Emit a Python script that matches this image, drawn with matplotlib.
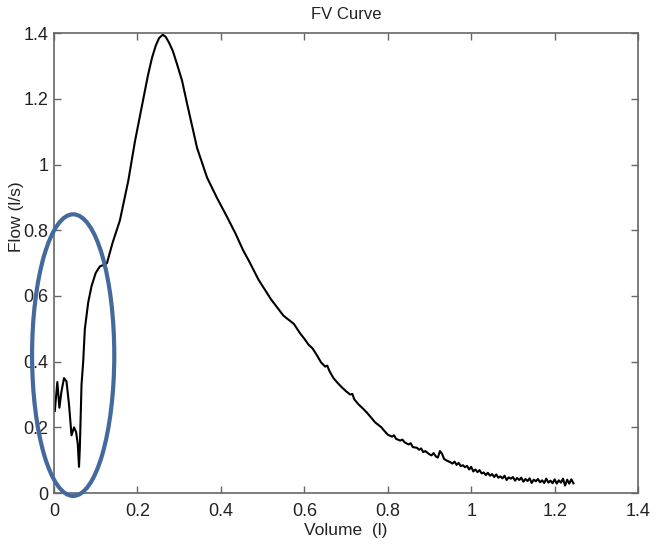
import matplotlib
matplotlib.use("Agg")
import matplotlib.pyplot as plt
from matplotlib.patches import Ellipse

plt.rcParams['font.family'] = ['Liberation Sans', 'DejaVu Sans']

volume = [
    0.002, 0.008, 0.013, 0.018, 0.024, 0.030, 0.036, 0.042, 0.048, 0.053,
    0.057, 0.060, 0.062, 0.066, 0.070, 0.074, 0.082, 0.090, 0.100, 0.110,
    0.120, 0.127, 0.140, 0.158, 0.178, 0.194, 0.214, 0.225, 0.235, 0.244,
    0.252, 0.261, 0.268, 0.276, 0.285, 0.295, 0.307, 0.319, 0.343, 0.367,
    0.390, 0.415, 0.435,
    0.453, 0.470, 0.490, 0.505, 0.520, 0.535, 0.550, 0.565, 0.575, 0.590,
    0.600, 0.610, 0.620, 0.630, 0.640, 0.650, 0.655, 0.660, 0.670, 0.680,
    0.690, 0.700, 0.710, 0.715, 0.720, 0.730, 0.740, 0.750, 0.760, 0.770,
    0.780, 0.785, 0.790, 0.800, 0.810, 0.815, 0.820, 0.830, 0.835, 0.840,
    0.850, 0.855, 0.860, 0.870, 0.875, 0.880, 0.885, 0.890, 0.900, 0.905,
    0.910, 0.915, 0.920, 0.925, 0.930, 0.935, 0.940, 0.950, 0.955, 0.960,
    0.965, 0.970, 0.975, 0.980, 0.985, 0.990, 0.995, 1.000, 1.005, 1.010,
    1.015, 1.020, 1.025, 1.030, 1.035, 1.040, 1.045, 1.050, 1.055, 1.060,
    1.065, 1.070, 1.075, 1.080, 1.085, 1.090, 1.095, 1.100, 1.105, 1.110,
    1.115, 1.120, 1.125, 1.130, 1.135, 1.140, 1.145, 1.150, 1.155, 1.160,
    1.165, 1.170, 1.175, 1.180, 1.185, 1.190, 1.195, 1.200, 1.205, 1.210,
    1.215, 1.220, 1.225, 1.230, 1.235, 1.240, 1.245,
]

flow = [
    0.250, 0.338, 0.260, 0.310, 0.350, 0.340, 0.270, 0.176, 0.200, 0.186,
    0.150, 0.080, 0.140, 0.330, 0.400, 0.500, 0.580, 0.630, 0.670, 0.690,
    0.695, 0.700, 0.760, 0.830, 0.950, 1.070, 1.200, 1.270, 1.325, 1.362,
    1.385, 1.395, 1.388, 1.370, 1.345, 1.305, 1.255, 1.185, 1.050, 0.960,
    0.900, 0.840, 0.790,
    0.740, 0.700, 0.650, 0.620, 0.590, 0.565, 0.540, 0.525, 0.515, 0.486,
    0.470, 0.452, 0.440, 0.420, 0.398, 0.385, 0.388, 0.372, 0.350, 0.335,
    0.322, 0.310, 0.300, 0.302, 0.285, 0.270, 0.258, 0.245, 0.230, 0.215,
    0.205, 0.200, 0.192, 0.178, 0.172, 0.176, 0.165, 0.160, 0.163, 0.155,
    0.148, 0.152, 0.140, 0.138, 0.132, 0.136, 0.125, 0.128, 0.118, 0.115,
    0.122, 0.112, 0.108, 0.128, 0.120, 0.104, 0.100, 0.094, 0.090, 0.096,
    0.086, 0.092, 0.082, 0.085, 0.079, 0.083, 0.072, 0.080, 0.066, 0.072,
    0.064, 0.070, 0.060, 0.063, 0.055, 0.062, 0.053, 0.058, 0.049, 0.057,
    0.047, 0.051, 0.045, 0.053, 0.040, 0.048, 0.044, 0.049, 0.038, 0.046,
    0.040, 0.047, 0.035, 0.043, 0.037, 0.045, 0.031, 0.041, 0.036, 0.043,
    0.033, 0.039, 0.031, 0.044, 0.032, 0.038, 0.030, 0.042, 0.029, 0.039,
    0.032, 0.044, 0.023, 0.041, 0.029, 0.042, 0.030,
]

xticks = [0, 0.2, 0.4, 0.6, 0.8, 1.0, 1.2, 1.4]
xticklabels = ['0', '0.2', '0.4', '0.6', '0.8', '1', '1.2', '1.4']
yticks = [0, 0.2, 0.4, 0.6, 0.8, 1.0, 1.2, 1.4]
yticklabels = ['0', '0.2', '0.4', '0.6', '0.8', '1', '1.2', '1.4']

# highlight ellipse (center, width, height) in data units
ellipse_center = (0.046, 0.42)
ellipse_width = 0.197
ellipse_height = 0.857

fig = plt.figure(figsize=(6.64, 5.51), dpi=100)
ax = fig.add_axes([0.0813, 0.105, 0.8797, 0.835])

ax.plot(volume, flow, color='black', linewidth=1.5)

ell = Ellipse(ellipse_center, ellipse_width, ellipse_height, fill=False,
              edgecolor='#44699c', linewidth=3.0, clip_on=False, zorder=5)
ax.add_patch(ell)

ax.set_xlim(0, 1.4)
ax.set_ylim(0, 1.4)
ax.set_xticks(xticks)
ax.set_xticklabels(xticklabels)
ax.set_yticks(yticks)
ax.set_yticklabels(yticklabels)

for s in ax.spines.values():
    s.set_color('#666666')
    s.set_linewidth(1.2)
ax.tick_params(direction='in', top=True, right=True, length=5, width=1,
               color='#666666', labelsize=13, labelcolor='#222222', pad=4)
ax.tick_params(axis='x', pad=7)

ax.set_title('FV Curve', fontsize=12, color='#222222', pad=10)
ax.set_xlabel('Volume  (l)', fontsize=12.5, color='#222222', labelpad=2)
ax.set_ylabel('Flow (l/s)', fontsize=12.5, color='#222222')
ax.yaxis.set_label_coords(-0.052, 0.6)

fig.savefig('out.png', dpi=100)
